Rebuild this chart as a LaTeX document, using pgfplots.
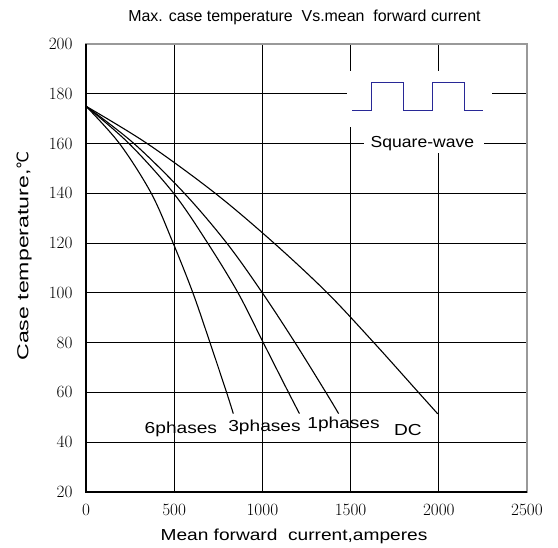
\documentclass[border=0pt]{standalone}
\usepackage{fontspec}
\setmainfont{Liberation Sans}
\newfontfamily\dejavu{DejaVu Sans}
\usepackage{graphicx}
\usepackage{pgfplots}
\pgfplotsset{compat=1.18}
\newcommand\lab[2][1.2]{{\fontsize{16}{16}\selectfont\scalebox{#1}[1]{#2}}}
\definecolor{wave}{RGB}{40,40,150}
\begin{document}
\begin{tikzpicture}
\begin{axis}[name=ax, scale only axis, width=441bp, height=448bp,
  xmin=0, xmax=2500, ymin=20, ymax=200,
  xtick={0,500,...,2500}, ytick={20,40,...,200},
  grid=major, major grid style={black, line width=1.1bp},
  axis line style={draw=gray!80, line width=1.4bp},
  tick style={black, line width=0.8bp}, major tick length=4bp, tick align=inside,
  tick pos=left, clip=false,
  ticklabel style={font=\fontsize{19}{19}\selectfont},
  xticklabel style={yshift=-9bp, /pgf/number format/1000 sep={}},
  yticklabel style={xshift=-10bp},
  scaled ticks=false,
]
% white boxes behind the square-wave inset
\fill[white] (axis cs:1480,189.2) rectangle (axis cs:2302,166.7);
\fill[white] (axis cs:1576,166.7) rectangle (axis cs:2256,156.2);
\addplot[wave, line width=1bp] coordinates {(1508,173.1)(1621,173.1)(1621,184.6)(1799,184.6)(1799,173.1)(1967,173.1)(1967,184.6)(2145,184.6)(2145,173.1)(2249,173.1)};
\node at (axis cs:1907,160) {\lab[1.1]{Square-wave}};
% curves
\addplot[black, line width=1.1bp, smooth, tension=0.55] coordinates {(0,175)(190,160)(370,140)(494,120)(606,100)(703,80)(797,60)(835,51.5)};
\addplot[black, line width=1.1bp, smooth, tension=0.55] coordinates {(0,175)(244,160)(497,140)(690,120)(862,100)(1005,80)(1148,60)(1210,51.5)};
\addplot[black, line width=1.1bp, smooth, tension=0.55] coordinates {(0,175)(272,160)(558,140)(798,120)(1000,100)(1185,80)(1360,60)(1432,51.5)};
\addplot[black, line width=1.1bp, smooth, tension=0.55] coordinates {(0,175)(347,160)(733,140)(1066,120)(1368,100)(1632,80)(1885,60)(1994,51.4)};
\node at (axis cs:538,45.2) {\lab{6phases}};
\node at (axis cs:1012,46) {\lab{3phases}};
\node at (axis cs:1460,47.2) {\lab{1phases}};
\node at (axis cs:1825,45) {\lab{DC}};
\end{axis}
\draw[black, line width=1.6bp] (ax.north west) -- (ax.south west) -- (ax.south east);
\node at ([shift={(218.5bp,475bp)}]ax.south west) {\fontsize{16}{16}\selectfont Max. case temperature\ \ Vs.mean\ \ forward current};
\node at ([shift={(208bp,-44bp)}]ax.south west) {\lab{Mean forward\ \ current,amperes}};
\node[rotate=90] at ([shift={(-62bp,236bp)}]ax.south west) {\fontsize{16}{16}\selectfont\scalebox{1.45}[1]{Case temperature,}{\dejavu ℃}};
\pgfresetboundingbox
\path[use as bounding box] ([shift={(-86bp,-56bp)}]ax.south west) rectangle ([shift={(31bp,44bp)}]ax.north east);
\end{tikzpicture}
\end{document}
